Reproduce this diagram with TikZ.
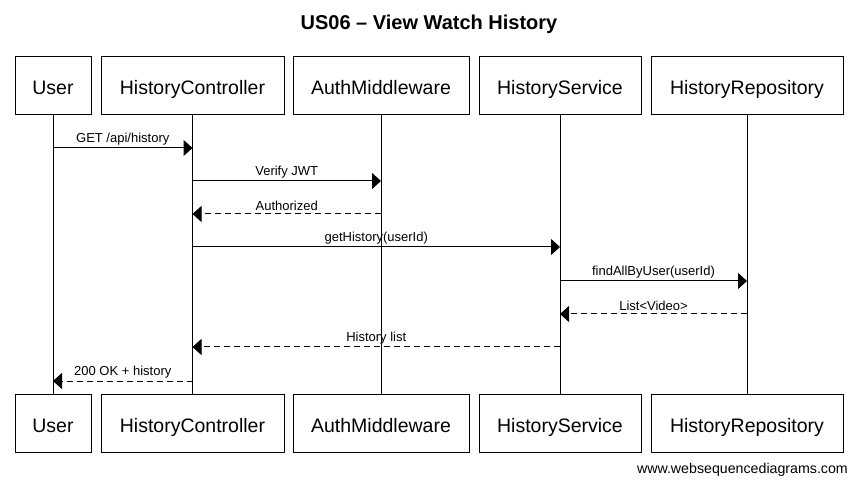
\documentclass[tikz,border=0pt]{standalone}
\usepackage{fontspec}
\setmainfont{Liberation Sans}
\usetikzlibrary{arrows.meta}
\begin{document}
\begin{tikzpicture}[x=1pt,y=-1pt,
  pbox/.style={draw, line width=1pt, minimum height=58pt, inner sep=0pt, text height=20pt, text depth=2pt, font=\fontsize{19.5}{22}\selectfont},
  lifeline/.style={line width=1pt},
  msg/.style={line width=1pt, -{Triangle[length=9pt,width=16pt]}},
  reply/.style={msg, dash pattern=on 6pt off 4pt},
  lbl/.style={midway, above, inner sep=2.5pt, font=\fontsize{13}{15}\selectfont}]
\useasboundingbox (0,0) rectangle (857,486);
\node[font=\bfseries\fontsize{20}{24}\selectfont] (title) at (429,24) {US06 – View Watch History};
% top participants
\node[pbox, minimum width=76pt]  (u1) at (53,86)  {User};
\node[pbox, minimum width=183pt] (c1) at (192.5,86) {HistoryController};
\node[pbox, minimum width=176pt] (a1) at (381,86) {AuthMiddleware};
\node[pbox, minimum width=162pt] (s1) at (560,86) {HistoryService};
\node[pbox, minimum width=192pt] (r1) at (747,86) {HistoryRepository};
% bottom participants
\node[pbox, minimum width=76pt]  (u2) at (53,423)  {User};
\node[pbox, minimum width=183pt] (c2) at (192.5,423) {HistoryController};
\node[pbox, minimum width=176pt] (a2) at (381,423) {AuthMiddleware};
\node[pbox, minimum width=162pt] (s2) at (560,423) {HistoryService};
\node[pbox, minimum width=192pt] (r2) at (747,423) {HistoryRepository};
% lifelines
\draw[lifeline] (u1) -- (u2);
\draw[lifeline] (c1) -- (c2);
\draw[lifeline] (a1) -- (a2);
\draw[lifeline] (s1) -- (s2);
\draw[lifeline] (r1) -- (r2);
% messages
\draw[msg]   (u1 |- 0,148) -- node[lbl] {GET /api/history} (c1 |- 0,148);
\draw[msg]   (c1 |- 0,181) -- node[lbl] {Verify JWT} (a1 |- 0,181);
\draw[reply] (a1 |- 0,214) -- node[lbl] {Authorized} (c1 |- 0,214);
\draw[msg]   (c1 |- 0,247) -- node[lbl] {getHistory(userId)} (s1 |- 0,247);
\draw[msg]   (s1 |- 0,281) -- node[lbl] {findAllByUser(userId)} (r1 |- 0,281);
\draw[reply] (r1 |- 0,314) -- node[lbl] {List<Video>} (s1 |- 0,314);
\draw[reply] (s1 |- 0,347) -- node[lbl] {History list} (c1 |- 0,347);
\draw[reply] (c1 |- 0,381) -- node[lbl] {200 OK + history} (u1 |- 0,381);
% footer
\node[anchor=east, inner sep=0pt, font=\fontsize{14.2}{16}\selectfont] (footer) at (848,470) {www.websequencediagrams.com};
\end{tikzpicture}
\end{document}
